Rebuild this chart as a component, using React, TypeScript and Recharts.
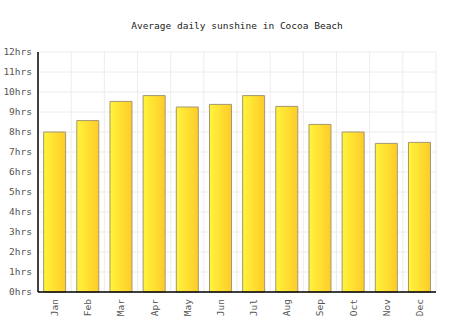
import React from 'react';
import { BarChart, Bar, XAxis, YAxis, CartesianGrid } from 'recharts';

const MONTHS = ['Jan', 'Feb', 'Mar', 'Apr', 'May', 'Jun', 'Jul', 'Aug', 'Sep', 'Oct', 'Nov', 'Dec'];
const SUNSHINE_HOURS = [8.0, 8.57, 9.53, 9.82, 9.25, 9.38, 9.82, 9.28, 8.38, 8.0, 7.43, 7.48];
const Y_TICKS = [0, 1, 2, 3, 4, 5, 6, 7, 8, 9, 10, 11, 12];

const FONT = '"DejaVu Sans Mono", "Liberation Mono", monospace';

const data = MONTHS.map((month, i) => ({ month, hours: SUNSHINE_HOURS[i] }));

function MonthTick(props: any) {
  const { x, y, payload } = props;
  return (
    <g transform={`translate(${x},${y})`}>
      <text
        transform="rotate(-90)"
        textAnchor="end"
        x={-5}
        dy={3.5}
        fill="#555"
        fontSize={9.5}
        fontFamily={FONT}
      >
        {payload.value}
      </text>
    </g>
  );
}

export default function App() {
  return (
    <div style={{ position: 'absolute', left: 0, top: 0, width: 474, height: 331, background: '#fff' }}>
      <div
        style={{
          position: 'absolute',
          top: 20,
          width: 474,
          textAlign: 'center',
          fontFamily: FONT,
          fontSize: 9.5,
          color: '#222',
        }}
      >
        Average daily sunshine in Cocoa Beach
      </div>
      <BarChart
        width={474}
        height={331}
        data={data}
        margin={{ top: 52, right: 38, left: 0, bottom: 0 }}
        barCategoryGap="17%"
      >
        <defs>
          <linearGradient id="sunGrad" x1="0" y1="0" x2="1" y2="0">
            <stop offset="0%" stopColor="#FFF43A" />
            <stop offset="100%" stopColor="#FFCB2A" />
          </linearGradient>
        </defs>
        <CartesianGrid
          stroke="#ececec"
          verticalCoordinatesGenerator={({ offset }: any) =>
            MONTHS.map((_, i) => offset.left + ((i + 1) * offset.width) / MONTHS.length)
          }
        />
        <XAxis
          dataKey="month"
          height={39}
          interval={0}
          tickLine={false}
          tickSize={0}
          axisLine={{ stroke: '#000', strokeWidth: 1.5 }}
          tick={<MonthTick />}
        />
        <YAxis
          width={38}
          domain={[0, 12]}
          ticks={Y_TICKS}
          interval={0}
          tickLine={false}
          tickSize={0}
          tickMargin={6}
          axisLine={{ stroke: '#000', strokeWidth: 1.5 }}
          tickFormatter={(v: number) => `${v}hrs`}
          tick={{ fill: '#555', fontSize: 9.5, fontFamily: FONT }}
        />
        <Bar
          dataKey="hours"
          fill="url(#sunGrad)"
          stroke="#A39772"
          strokeWidth={1}
          isAnimationActive={false}
        />
      </BarChart>
    </div>
  );
}
